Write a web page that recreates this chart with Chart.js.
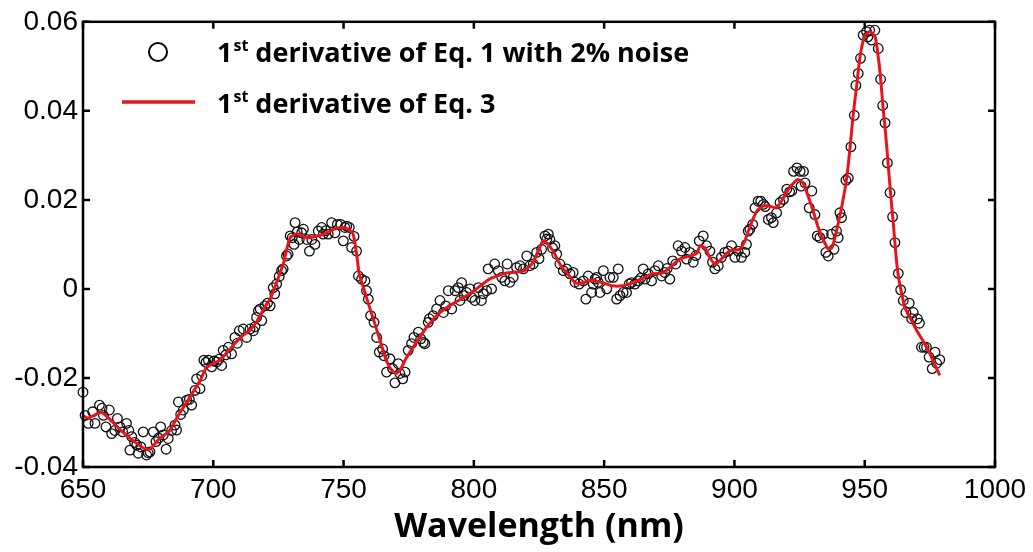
<!DOCTYPE html>
<html>
<head>
<meta charset="utf-8">
<script src="https://cdn.jsdelivr.net/npm/chart.js@4.4.1/dist/chart.umd.min.js"></script>
<style>
    html, body { margin: 0; padding: 0; background: #fff; }
    #spectrum-chart { display: block; }
</style>
</head>
<body>
<canvas id="spectrum-chart" width="1033" height="552"></canvas>
<script>
/* =============================================================================
DATA
============================================================================= */

const xTickValues = [650, 700, 750, 800, 850, 900, 950, 1000];
const yTickValues = [-0.04, -0.02, 0, 0.02, 0.04, 0.06];

const legendLabels = [
    { lead: "1", sup: "st", rest: " derivative of Eq. 1 with 2% noise" },
    { lead: "1", sup: "st", rest: " derivative of Eq. 3" }
];
const xAxisTitle = "Wavelength (nm)";

// [wavelength nm, value] – circles
const noisyPoints = [
    [650.0, -0.0232], [650.8, -0.0284], [652.0, -0.0302], [653.7, -0.0276], [654.6, -0.0302],
    [656.3, -0.0261], [657.3, -0.0268], [657.8, -0.0284], [658.8, -0.0310], [660.1, -0.0272],
    [661.0, -0.0325], [662.2, -0.0318], [663.2, -0.0291], [664.2, -0.0310], [665.2, -0.0321],
    [666.7, -0.0302], [667.6, -0.0318], [668.0, -0.0362], [668.7, -0.0332], [669.8, -0.0345],
    [670.6, -0.0351], [671.2, -0.0369], [672.2, -0.0355], [673.1, -0.0321], [674.4, -0.0373],
    [675.0, -0.0368], [675.7, -0.0366], [677.0, -0.0321], [678.0, -0.0343], [679.0, -0.0335],
    [679.8, -0.0310], [680.8, -0.0328], [681.9, -0.0360], [682.7, -0.0336], [684.0, -0.0318],
    [685.3, -0.0306], [685.9, -0.0317], [686.6, -0.0254], [687.5, -0.0282], [688.5, -0.0272],
    [689.8, -0.0250], [690.8, -0.0248], [691.7, -0.0261], [693.0, -0.0228], [693.6, -0.0202],
    [694.9, -0.0224], [695.6, -0.0195], [696.4, -0.0160], [697.2, -0.0165], [698.1, -0.0160],
    [699.4, -0.0175], [700.3, -0.0162], [701.3, -0.0164], [702.2, -0.0158], [703.2, -0.0172],
    [703.8, -0.0138], [704.8, -0.0148], [705.8, -0.0131], [707.0, -0.0146], [708.3, -0.0109],
    [709.2, -0.0122], [710.0, -0.0094], [711.5, -0.0090], [712.8, -0.0109], [714.1, -0.0090],
    [715.4, -0.0094], [716.0, -0.0085], [716.6, -0.0064], [717.3, -0.0049], [718.0, -0.0045],
    [718.6, -0.0071], [719.8, -0.0038], [720.8, -0.0032], [721.8, -0.0038], [723.0, 0.0003],
    [723.6, -0.0011], [724.3, 0.0011], [725.3, 0.0028], [726.2, 0.0041], [726.8, 0.0045],
    [728.1, 0.0074], [728.7, 0.0078], [729.5, 0.0119], [730.3, 0.0115], [731.0, 0.0100],
    [731.4, 0.0149], [732.2, 0.0128], [733.0, 0.0111], [733.9, 0.0126], [734.6, 0.0134],
    [735.9, 0.0111], [736.9, 0.0085], [737.8, 0.0111], [739.0, 0.0100], [740.3, 0.0130],
    [741.6, 0.0138], [742.2, 0.0123], [743.2, 0.0131], [744.1, 0.0123], [745.4, 0.0149],
    [746.7, 0.0126], [747.6, 0.0145], [748.9, 0.0145], [749.9, 0.0108], [750.5, 0.0138],
    [751.2, 0.0141], [752.2, 0.0138], [753.1, 0.0093], [754.0, 0.0118], [755.0, 0.0085],
    [755.7, 0.0029], [756.9, 0.0022], [758.2, 0.0018], [758.8, -0.0004], [759.5, -0.0023],
    [760.4, -0.0060], [761.7, -0.0075], [762.7, -0.0109], [763.7, -0.0142], [765.0, -0.0135],
    [765.5, -0.0150], [766.5, -0.0187], [767.8, -0.0157], [768.8, -0.0179], [769.7, -0.0211],
    [771.0, -0.0168], [771.6, -0.0190], [772.7, -0.0202], [773.6, -0.0187], [774.8, -0.0138],
    [776.1, -0.0123], [777.0, -0.0109], [778.7, -0.0097], [779.6, -0.0112], [780.6, -0.0120],
    [781.2, -0.0123], [782.5, -0.0075], [782.9, -0.0067], [784.4, -0.0060], [785.7, -0.0045],
    [787.0, -0.0026], [788.3, -0.0053], [789.2, -0.0038], [790.2, -0.0004], [791.5, -0.0045],
    [792.8, -0.0004], [794.0, 0.0003], [794.7, -0.0026], [795.3, 0.0014], [796.3, -0.0015],
    [797.2, -0.0008], [798.5, 0.0000], [799.1, -0.0019], [800.4, -0.0026], [801.7, 0.0003],
    [802.9, -0.0026], [803.6, -0.0011], [804.9, -0.0004], [805.5, 0.0045], [806.8, 0.0000],
    [808.0, 0.0056], [809.4, 0.0041], [810.7, 0.0026], [811.9, 0.0018], [812.8, 0.0056],
    [813.8, 0.0015], [815.1, 0.0026], [816.4, 0.0048], [817.7, 0.0052], [819.0, 0.0045],
    [820.3, 0.0074], [821.5, 0.0052], [822.8, 0.0056], [824.1, 0.0082], [825.0, 0.0068],
    [826.0, 0.0089], [827.3, 0.0119], [828.0, 0.0112], [828.6, 0.0123], [829.2, 0.0111],
    [830.2, 0.0092], [831.1, 0.0097], [831.8, 0.0078], [833.0, 0.0056], [834.3, 0.0041],
    [835.6, 0.0045], [836.9, 0.0034], [838.1, 0.0037], [838.8, 0.0015], [840.4, 0.0011],
    [842.0, 0.0018], [843.0, -0.0023], [843.9, 0.0029], [845.2, -0.0008], [845.8, 0.0011],
    [846.5, 0.0022], [847.1, 0.0026], [847.7, 0.0015], [848.4, -0.0008], [849.7, 0.0041],
    [851.0, 0.0000], [852.2, 0.0026], [853.5, 0.0026], [854.8, -0.0023], [855.4, 0.0045],
    [856.1, -0.0015], [857.3, -0.0008], [858.6, -0.0008], [859.6, 0.0011], [860.5, 0.0014],
    [861.8, 0.0011], [863.1, 0.0018], [864.0, 0.0024], [865.0, 0.0045], [865.7, 0.0022],
    [866.9, 0.0034], [868.2, 0.0018], [869.5, 0.0041], [870.8, 0.0052], [872.1, 0.0029],
    [873.3, 0.0037], [874.2, 0.0046], [875.2, 0.0022], [876.3, 0.0063], [877.5, 0.0056],
    [878.4, 0.0097], [879.7, 0.0085], [881.0, 0.0093], [881.6, 0.0067], [882.9, 0.0082],
    [884.2, 0.0060], [885.2, 0.0075], [886.5, 0.0108], [888.0, 0.0119], [889.3, 0.0097],
    [890.6, 0.0085], [891.6, 0.0060], [892.5, 0.0045], [893.8, 0.0052], [895.0, 0.0071],
    [896.3, 0.0082], [897.6, 0.0085], [898.9, 0.0097], [900.2, 0.0071], [901.4, 0.0085],
    [902.7, 0.0071], [904.0, 0.0082], [904.6, 0.0100], [905.3, 0.0130], [905.9, 0.0134],
    [907.0, 0.0145], [907.9, 0.0182], [909.1, 0.0197], [910.1, 0.0197], [911.1, 0.0190],
    [911.8, 0.0185], [913.0, 0.0156], [914.2, 0.0160], [914.9, 0.0149], [916.2, 0.0171],
    [917.5, 0.0194], [918.8, 0.0201], [920.1, 0.0224], [921.2, 0.0218], [922.0, 0.0220],
    [922.7, 0.0264], [924.0, 0.0272], [925.2, 0.0264], [925.6, 0.0231], [926.5, 0.0264],
    [927.1, 0.0238], [928.7, 0.0182], [929.7, 0.0220], [930.9, 0.0167], [931.8, 0.0119],
    [932.8, 0.0115], [934.1, 0.0123], [935.1, 0.0082], [936.0, 0.0074], [937.3, 0.0123],
    [938.2, 0.0089], [939.2, 0.0130], [939.8, 0.0115], [940.5, 0.0171], [941.1, 0.0160],
    [942.8, 0.0244], [943.7, 0.0249], [944.7, 0.0319], [946.0, 0.0390], [946.6, 0.0457],
    [947.5, 0.0484], [948.4, 0.0518], [949.4, 0.0570], [950.7, 0.0578], [951.2, 0.0566],
    [951.9, 0.0581], [952.6, 0.0559], [953.9, 0.0581], [955.2, 0.0540], [956.1, 0.0471],
    [956.9, 0.0412], [957.8, 0.0373], [958.7, 0.0283], [959.7, 0.0216], [960.7, 0.0162],
    [961.6, 0.0104], [962.9, 0.0035], [963.8, -0.0002], [964.8, -0.0026], [965.8, -0.0053],
    [967.1, -0.0032], [968.0, -0.0067], [968.6, -0.0053], [970.2, -0.0067], [971.0, -0.0077],
    [971.8, -0.0131], [972.8, -0.0131], [973.7, -0.0131], [974.7, -0.0153], [975.9, -0.0179],
    [977.0, -0.0142], [977.6, -0.0167], [978.8, -0.0159]
];

// [wavelength nm, value] – red curve
const fitPoints = [
    [650, -0.0285], [652, -0.0290], [657, -0.0277], [661.5, -0.0300], [665, -0.0320],
    [669, -0.0340], [675, -0.0362], [679.5, -0.0335], [683, -0.0320], [687, -0.0280],
    [691, -0.0243], [695, -0.0205], [697.5, -0.0176], [702.5, -0.0160], [706, -0.0138],
    [710, -0.0111], [714, -0.0093], [717, -0.0071], [719, -0.0049], [722, -0.0020],
    [724.5, 0.0018], [727, 0.0059], [728, 0.0085], [729.5, 0.0115], [732, 0.0124],
    [736, 0.0115], [740, 0.0119], [743.5, 0.0126], [747.5, 0.0137], [751, 0.0137],
    [753.6, 0.0124], [755, 0.0079], [756, 0.0034], [758, -0.0004], [760, -0.0042],
    [762, -0.0078], [764, -0.0116], [766, -0.0154], [768, -0.0179], [770, -0.0190],
    [771.6, -0.0183], [774, -0.0156], [776.6, -0.0132], [779, -0.0111], [782, -0.0085],
    [787, -0.0053], [792, -0.0033], [798.5, -0.0011], [806, 0.0022], [812.7, 0.0036],
    [819, 0.0040], [822.7, 0.0059], [826.5, 0.0108], [828, 0.0103], [830.4, 0.0085],
    [833, 0.0056], [835.7, 0.0036], [838.8, 0.0014], [841.9, 0.0014], [845, 0.0020],
    [849.5, 0.0014], [853, 0.0007], [857, 0.0007], [861, 0.0014], [865, 0.0025],
    [868.7, 0.0034], [872.6, 0.0036], [875, 0.0047], [879, 0.0067], [883, 0.0074],
    [885.6, 0.0080], [886.8, 0.0097], [888.7, 0.0092], [890.6, 0.0070], [892.5, 0.0056],
    [895, 0.0067], [898, 0.0085], [902, 0.0089], [904, 0.0108], [906, 0.0141],
    [908.6, 0.0175], [911, 0.0186], [913.6, 0.0186], [916, 0.0182], [918.6, 0.0202],
    [921, 0.0226], [924.4, 0.0246], [926.3, 0.0238], [928, 0.0213], [930, 0.0179],
    [932, 0.0141], [934, 0.0112], [936, 0.0090], [937.4, 0.0092], [939, 0.0126],
    [941, 0.0179], [943, 0.0246], [944.3, 0.0313], [945.5, 0.0387], [947, 0.0461],
    [948.2, 0.0522], [950, 0.0568], [952, 0.0578], [954, 0.0566], [955, 0.0530],
    [956, 0.0480], [957, 0.0410], [958, 0.0350], [959, 0.0280], [960, 0.0210],
    [961, 0.0145], [962, 0.0075], [963, 0.0025], [964, -0.0005], [965.4, -0.0042],
    [967.3, -0.0064], [970, -0.0094], [972.3, -0.0116], [975, -0.0145], [977, -0.0172],
    [978.8, -0.0194]
];

/* =============================================================================
STYLE
============================================================================= */

const TICK_FONT = { family: "'Liberation Sans', Arial, sans-serif", size: 28 };
const TITLE_FONT = { family: "'Open Sans', 'Noto Sans', sans-serif", size: 34, weight: "bold" };
const LEGEND_FONT_FAMILY = "'Open Sans', 'Noto Sans', sans-serif";
const RED = "#e8141b";

function toXY(points) {
    return points.map(p => ({ x: p[0], y: p[1] }));
}

function formatYTick(value) {
    if (Math.abs(value) < 1e-9) return "0";
    return value.toFixed(2);
}

/* =============================================================================
FRAME + INWARD TICKS + LEGEND
============================================================================= */

const framePlugin = {
    id: "frame",
    afterDraw(chart) {
        const { ctx, chartArea: area, scales } = chart;
        const tickLen = 7;
        ctx.save();
        ctx.strokeStyle = "#000";
        ctx.lineWidth = 2.5;
        ctx.strokeRect(area.left, area.top, area.right - area.left, area.bottom - area.top);

        ctx.beginPath();
        xTickValues.forEach(v => {
            const px = scales.x.getPixelForValue(v);
            ctx.moveTo(px, area.bottom);
            ctx.lineTo(px, area.bottom - tickLen);
            ctx.moveTo(px, area.top);
            ctx.lineTo(px, area.top + tickLen);
        });
        yTickValues.forEach(v => {
            const py = scales.y.getPixelForValue(v);
            ctx.moveTo(area.left, py);
            ctx.lineTo(area.left + tickLen, py);
            ctx.moveTo(area.right, py);
            ctx.lineTo(area.right - tickLen, py);
        });
        ctx.stroke();
        ctx.restore();

        drawLegend(ctx);
    }
};

function drawLabel(ctx, label, x, baseline) {
    ctx.font = `bold 27px ${LEGEND_FONT_FAMILY}`;
    ctx.fillText(label.lead, x, baseline);
    let cursor = x + ctx.measureText(label.lead).width + 1;
    ctx.font = `bold 16px ${LEGEND_FONT_FAMILY}`;
    ctx.fillText(label.sup, cursor, baseline - 11);
    cursor += ctx.measureText(label.sup).width;
    ctx.font = `bold 27px ${LEGEND_FONT_FAMILY}`;
    ctx.fillText(label.rest, cursor, baseline);
}

function drawLegend(ctx) {
    ctx.save();
    ctx.fillStyle = "#000";
    ctx.textBaseline = "alphabetic";

    ctx.strokeStyle = "#000";
    ctx.lineWidth = 2;
    ctx.beginPath();
    ctx.arc(158, 52, 9, 0, Math.PI * 2);
    ctx.stroke();
    drawLabel(ctx, legendLabels[0], 217, 62);

    ctx.strokeStyle = RED;
    ctx.lineWidth = 3.5;
    ctx.beginPath();
    ctx.moveTo(122, 102);
    ctx.lineTo(195, 102);
    ctx.stroke();
    drawLabel(ctx, legendLabels[1], 217, 113);
    ctx.restore();
}

/* =============================================================================
CHART
============================================================================= */

function renderSpectrumChart() {
    const ctx = document.getElementById("spectrum-chart").getContext("2d");

    new Chart(ctx, {
        type: "scatter",
        data: {
            datasets: [
                {
                    label: "noisy",
                    data: toXY(noisyPoints),
                    pointStyle: "circle",
                    pointRadius: 4.8,
                    pointBorderWidth: 1.3,
                    pointBorderColor: "#111",
                    pointBackgroundColor: "rgba(0,0,0,0)",
                    showLine: false,
                    clip: false,
                    order: 1
                },
                {
                    label: "fit",
                    data: toXY(fitPoints),
                    showLine: true,
                    borderColor: RED,
                    borderWidth: 3,
                    pointRadius: 0,
                    tension: 0.2,
                    order: 0
                }
            ]
        },
        options: {
            responsive: false,
            animation: false,
            devicePixelRatio: 1,
            layout: { padding: { top: 20, right: 38, left: 0, bottom: 0 } },
            plugins: {
                legend: { display: false },
                tooltip: { enabled: false }
            },
            scales: {
                x: {
                    type: "linear",
                    min: 650,
                    max: 1000,
                    afterFit: scale => { scale.height = 85; },
                    afterBuildTicks: scale => { scale.ticks = xTickValues.map(v => ({ value: v })); },
                    grid: { display: false, drawTicks: false },
                    border: { display: false },
                    ticks: {
                        font: TICK_FONT,
                        color: "#000",
                        padding: 6,
                        maxRotation: 0,
                        callback: value => String(value)
                    },
                    title: {
                        display: true,
                        text: xAxisTitle,
                        font: TITLE_FONT,
                        color: "#000",
                        padding: { top: 0, bottom: 4 }
                    }
                },
                y: {
                    type: "linear",
                    min: -0.04,
                    max: 0.06,
                    afterFit: scale => { scale.width = 83; },
                    afterBuildTicks: scale => { scale.ticks = yTickValues.map(v => ({ value: v })); },
                    grid: { display: false, drawTicks: false },
                    border: { display: false },
                    ticks: { font: TICK_FONT, color: "#000", padding: 5, callback: formatYTick }
                }
            }
        },
        plugins: [framePlugin]
    });
}

renderSpectrumChart();
</script>
</body>
</html>
